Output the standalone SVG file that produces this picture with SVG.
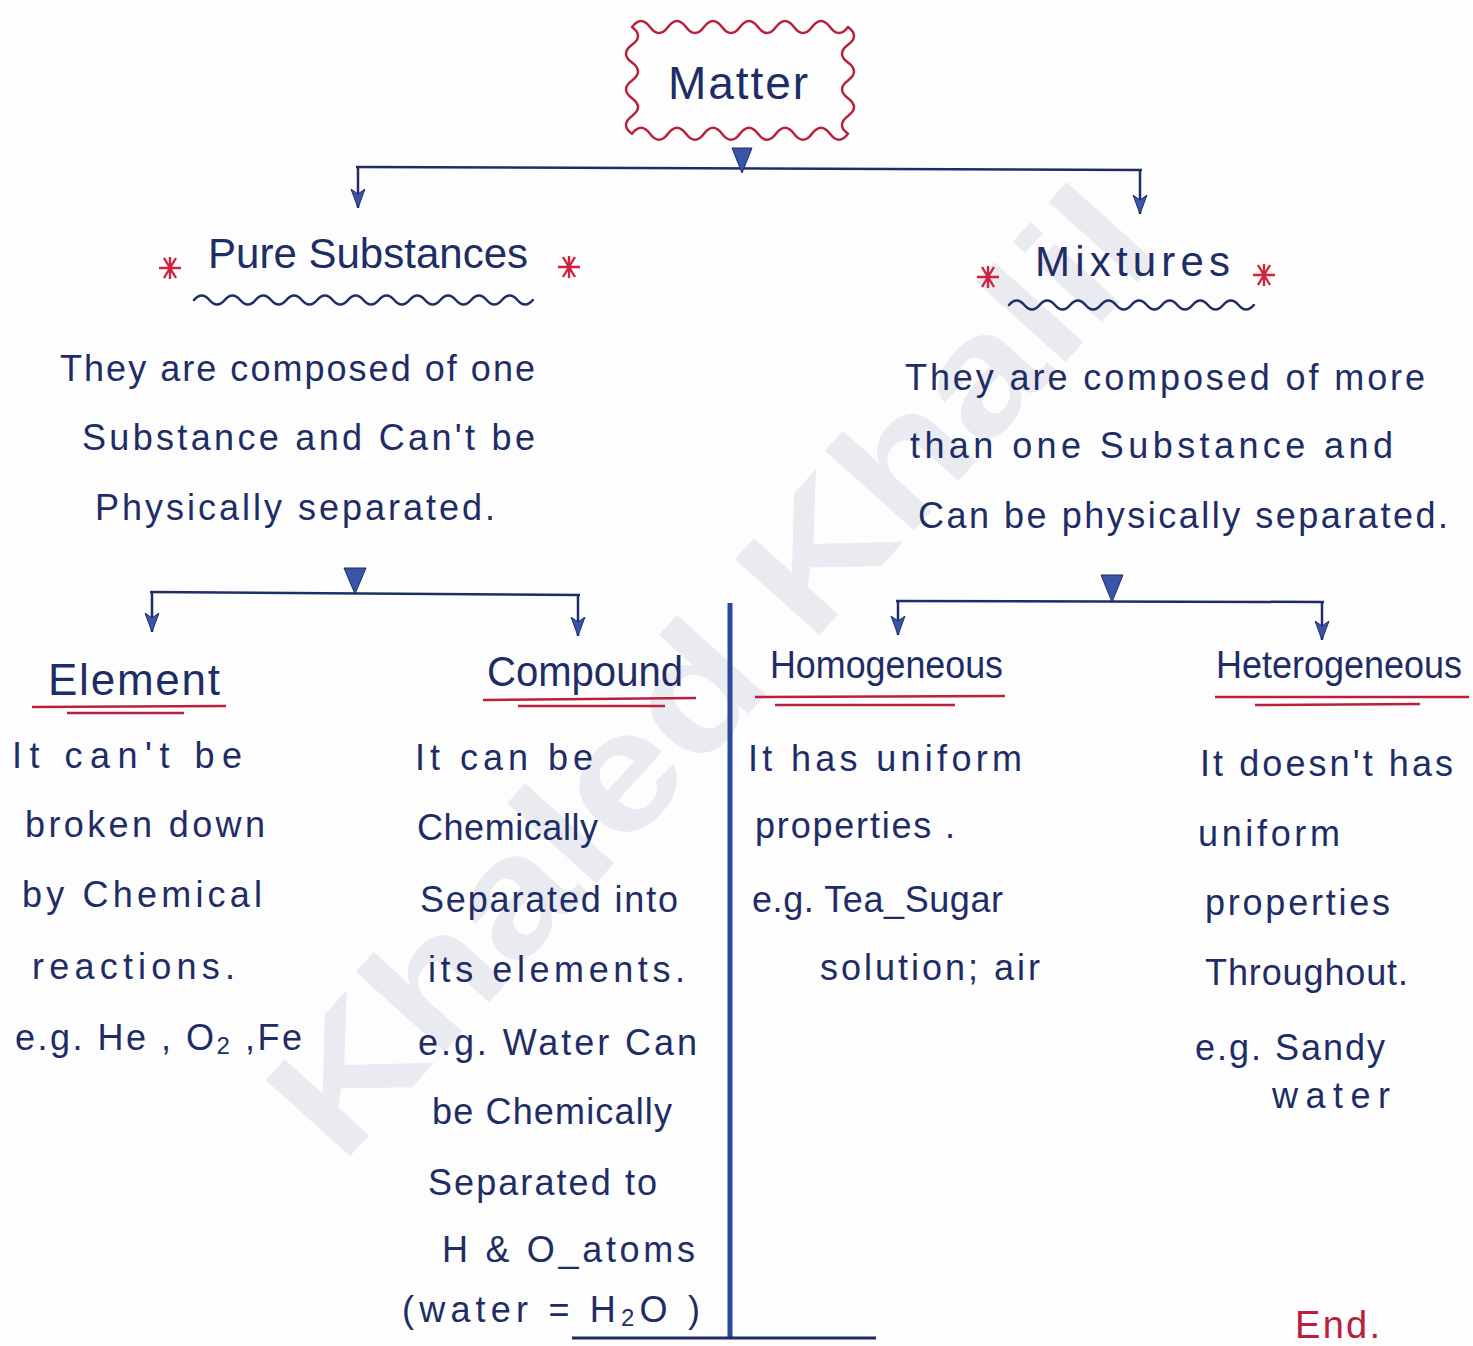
<svg xmlns="http://www.w3.org/2000/svg" width="1473" height="1346" viewBox="0 0 1473 1346">
<style>
.t{font-family:"Liberation Sans","Open Sans",sans-serif;fill:#1f2d66;font-size:36px}
.h{font-family:"Liberation Sans","Open Sans",sans-serif;fill:#1f2d66}
.ln{stroke:#1f2d66;stroke-width:2.5;fill:none}
.wave{stroke:#1f2d66;stroke-width:2.5;fill:none;stroke-linecap:round}
.red{stroke:#b8203c;stroke-width:2.5;fill:none}
.tri{fill:#3a55a8;stroke:#1f2d66;stroke-width:1}
.wm{font-family:"Liberation Sans",sans-serif;font-weight:bold;font-size:165px;fill:#eaebf0}
</style>
<defs>
<marker id="ah" viewBox="0 -8 20 16" refX="19" refY="0" markerWidth="20" markerHeight="16" markerUnits="userSpaceOnUse" orient="auto">
<path d="M0,-7 L19,0 L0,7 L5,0 z" fill="#3a55a8" stroke="#1f2d66" stroke-width="1"/>
</marker>
<path id="ast" d="M-11,0 H11 M-6,-10 L6,10 M6,-10 L-6,10 M0,-11 V11" stroke="#d0223e" stroke-width="2.4" fill="none"/>
</defs>
<rect width="1473" height="1346" fill="#fdfdfd"/>
<text class="wm" x="710" y="728" text-anchor="middle" textLength="1230" lengthAdjust="spacingAndGlyphs" transform="rotate(-48 710 670)">Khaled Khalil</text>

<g id="connectors">
<line class="ln" x1="356" y1="167" x2="1142" y2="170"/>
<line class="ln" x1="358" y1="167" x2="358" y2="208" marker-end="url(#ah)"/>
<line class="ln" x1="1140" y1="170" x2="1140" y2="214" marker-end="url(#ah)"/>
<path class="tri" d="M732,148 L752,148 L742,173 z"/>
<line class="ln" x1="150" y1="592" x2="580" y2="595"/>
<line class="ln" x1="152" y1="592" x2="152" y2="632" marker-end="url(#ah)"/>
<line class="ln" x1="578" y1="595" x2="578" y2="636" marker-end="url(#ah)"/>
<path class="tri" d="M344,568 L366,568 L355,594 z"/>
<line class="ln" x1="896" y1="601" x2="1324" y2="602"/>
<line class="ln" x1="898" y1="601" x2="898" y2="635" marker-end="url(#ah)"/>
<line class="ln" x1="1322" y1="602" x2="1322" y2="640" marker-end="url(#ah)"/>
<path class="tri" d="M1101,575 L1123,575 L1112,602 z"/>
<line x1="730" y1="603" x2="730" y2="1338" stroke="#2b4a9c" stroke-width="5"/>
<line x1="572" y1="1338" x2="876" y2="1338" stroke="#1f2d66" stroke-width="3"/>
</g>

<g id="matter">
<path d="M632,27 q9,-12 18,0 t18,0 t18,0 t18,0 t18,0 t18,0 t18,0 t18,0 t18,0 t18,0 t18,0 t18,0 q12,8.9 0,17.8 t0,17.8 t0,17.8 t0,17.8 t0,17.8 t0,17.8 q-9,12 -18,0 t-18,0 t-18,0 t-18,0 t-18,0 t-18,0 t-18,0 t-18,0 t-18,0 t-18,0 t-18,0 t-18,0 q-12,-8.9 0,-17.8 t0,-17.8 t0,-17.8 t0,-17.8 t0,-17.8 t0,-17.8 z" fill="none" stroke="#b8203c" stroke-width="2.5" stroke-linejoin="round"/>
<text class="h" x="668" y="99" style="font-size:46px" textLength="140" lengthAdjust="spacing">Matter</text>
</g>

<g id="pure-substances">
<use href="#ast" x="170" y="268"/>
<use href="#ast" x="569" y="267"/>
<text class="h" x="208" y="268" style="font-size:42px" textLength="320" lengthAdjust="spacing">Pure Substances</text>
<path class="wave" d="M194,300 q7.7,-9 15.4,0 t15.4,0 t15.4,0 t15.4,0 t15.4,0 t15.4,0 t15.4,0 t15.4,0 t15.4,0 t15.4,0 t15.4,0 t15.4,0 t15.4,0 t15.4,0 t15.4,0 t15.4,0 t15.4,0 t15.4,0 t15.4,0 t15.4,0 t15.4,0 t15.4,0"/>
<text class="t" x="60" y="381" textLength="475" lengthAdjust="spacing">They are composed of one</text>
<text class="t" x="82" y="450" textLength="453" lengthAdjust="spacing">Substance and Can't be</text>
<text class="t" x="95" y="520" textLength="400" lengthAdjust="spacing">Physically separated.</text>
</g>

<g id="mixtures">
<use href="#ast" x="988" y="277"/>
<use href="#ast" x="1264" y="275"/>
<text class="h" x="1035" y="276" style="font-size:42px" textLength="195" lengthAdjust="spacing">Mixtures</text>
<path class="wave" d="M1009,305 q7.65,-9 15.3,0 t15.3,0 t15.3,0 t15.3,0 t15.3,0 t15.3,0 t15.3,0 t15.3,0 t15.3,0 t15.3,0 t15.3,0 t15.3,0 t15.3,0 t15.3,0 t15.3,0 t15.3,0"/>
<text class="t" x="905" y="390" textLength="520" lengthAdjust="spacing">They are composed of more</text>
<text class="t" x="910" y="458" textLength="483" lengthAdjust="spacing">than one Substance and</text>
<text class="t" x="918" y="528" textLength="530" lengthAdjust="spacing">Can be physically separated.</text>
</g>

<g id="element">
<text class="h" x="48" y="695" style="font-size:44px" textLength="172" lengthAdjust="spacing">Element</text>
<line class="red" x1="32" y1="707" x2="226" y2="706"/>
<line class="red" x1="67" y1="713" x2="184" y2="713"/>
<text class="t" x="12" y="768" textLength="230" lengthAdjust="spacing">It can't be</text>
<text class="t" x="25" y="837" textLength="240" lengthAdjust="spacing">broken down</text>
<text class="t" x="22" y="907" textLength="240" lengthAdjust="spacing">by Chemical</text>
<text class="t" x="32" y="979" textLength="203" lengthAdjust="spacing">reactions.</text>
<text class="t" x="15" y="1050" textLength="287" lengthAdjust="spacing">e.g. He , O<tspan style="font-size:24px" dy="4">2</tspan><tspan dy="-4"> ,Fe</tspan></text>
</g>

<g id="compound">
<text class="h" x="487" y="686" style="font-size:42px" textLength="196" lengthAdjust="spacingAndGlyphs">Compound</text>
<line class="red" x1="483" y1="700" x2="696" y2="698"/>
<line class="red" x1="518" y1="706" x2="665" y2="706"/>
<text class="t" x="415" y="770" textLength="178" lengthAdjust="spacing">It can be</text>
<text class="t" x="417" y="840" textLength="181" lengthAdjust="spacing">Chemically</text>
<text class="t" x="420" y="912" textLength="258" lengthAdjust="spacing">Separated into</text>
<text class="t" x="428" y="982" textLength="257" lengthAdjust="spacing">its elements.</text>
<text class="t" x="418" y="1055" textLength="279" lengthAdjust="spacing">e.g. Water Can</text>
<text class="t" x="432" y="1124" textLength="240" lengthAdjust="spacing">be Chemically</text>
<text class="t" x="428" y="1195" textLength="229" lengthAdjust="spacing">Separated to</text>
<text class="t" x="442" y="1262" textLength="253" lengthAdjust="spacing">H &amp; O_atoms</text>
<text class="t" x="402" y="1322" textLength="298" lengthAdjust="spacing">(water = H<tspan style="font-size:24px" dy="4">2</tspan><tspan dy="-4">O )</tspan></text>
</g>

<g id="homogeneous">
<text class="h" x="770" y="678" style="font-size:38px" textLength="233" lengthAdjust="spacingAndGlyphs">Homogeneous</text>
<line class="red" x1="755" y1="697" x2="1005" y2="696"/>
<line class="red" x1="775" y1="705" x2="955" y2="705"/>
<text class="t" x="748" y="771" textLength="274" lengthAdjust="spacing">It has uniform</text>
<text class="t" x="755" y="838" textLength="200" lengthAdjust="spacing">properties .</text>
<text class="t" x="752" y="912" textLength="251" lengthAdjust="spacing">e.g. Tea_Sugar</text>
<text class="t" x="820" y="980" textLength="220" lengthAdjust="spacing">solution; air</text>
</g>

<g id="heterogeneous">
<text class="h" x="1216" y="678" style="font-size:38px" textLength="246" lengthAdjust="spacingAndGlyphs">Heterogeneous</text>
<line class="red" x1="1215" y1="697" x2="1469" y2="697"/>
<line class="red" x1="1255" y1="705" x2="1420" y2="704"/>
<text class="t" x="1200" y="776" textLength="253" lengthAdjust="spacing">It doesn't has</text>
<text class="t" x="1198" y="846" textLength="142" lengthAdjust="spacing">uniform</text>
<text class="t" x="1205" y="915" textLength="185" lengthAdjust="spacing">properties</text>
<text class="t" x="1205" y="985" textLength="203" lengthAdjust="spacing">Throughout.</text>
<text class="t" x="1195" y="1060" textLength="190" lengthAdjust="spacing">e.g. Sandy</text>
<text class="t" x="1272" y="1108" textLength="118" lengthAdjust="spacing">water</text>
</g>

<g id="end">
<text class="t" x="1295" y="1338" style="font-size:38px;fill:#b8203c" textLength="85" lengthAdjust="spacing">End.</text>
</g>
</svg>
